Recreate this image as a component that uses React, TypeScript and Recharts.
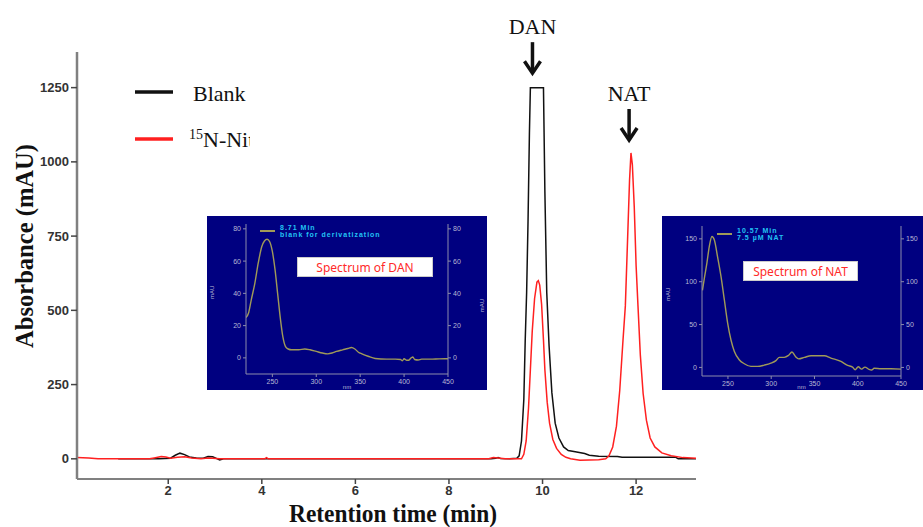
import React from 'react';
import { LineChart, Line, XAxis, YAxis, Legend, ReferenceDot, Label } from 'recharts';

const timeTicks = [2, 4, 6, 8, 10, 12];
const absTicks = [0, 250, 500, 750, 1000, 1250];
const seriesNames = ['Blank', '15N-Nitrite'];

// [retention time (min), absorbance (mAU)]
const blankTrace = [
  [0.93, 0], [1.8, 0], [2.05, 2], [2.15, 12], [2.25, 19], [2.35, 14], [2.45, 6], [2.6, 3],
  [2.75, 2], [2.85, 8], [2.95, 7], [3.05, 0], [3.1, -4], [3.18, 0], [5, 0], [8.9, 0],
  [9.0, 2], [9.05, 4], [9.1, 1], [9.3, 0], [9.45, 2], [9.5, 10], [9.55, 60], [9.6, 200],
  [9.63, 400], [9.66, 560], [9.69, 800], [9.72, 1100], [9.74, 1250], [10.02, 1250], [10.05, 900],
  [10.09, 560], [10.14, 380], [10.2, 222], [10.27, 120], [10.35, 70], [10.45, 40], [10.55, 28],
  [10.7, 24], [10.9, 18], [11.0, 12], [11.2, 9], [11.6, 8], [11.7, 5], [12.85, 5], [12.9, 0], [13.3, 0],
];

const nitriteTrace = [
  [0, 5], [0.3, 3], [0.5, 0], [1.6, 0], [1.7, 3], [1.85, 8], [1.95, 6], [2.05, 2], [2.2, 5],
  [2.35, 7], [2.5, 3], [2.7, 0], [2.85, 3], [2.95, 2], [3.1, 0], [4.06, 0], [4.1, 4], [4.14, 0],
  [8.85, 0], [8.95, 4], [9.1, 2], [9.2, 0], [9.55, 0], [9.6, 15], [9.65, 60], [9.7, 170],
  [9.74, 300], [9.78, 430], [9.83, 540], [9.88, 595], [9.91, 600], [9.94, 585], [9.98, 520],
  [10.02, 400], [10.05, 300], [10.1, 190], [10.15, 120], [10.22, 65], [10.3, 35], [10.4, 15],
  [10.5, 5], [10.6, 0], [10.8, -5], [11.0, -4], [11.2, -3], [11.35, 0], [11.42, 10], [11.5, 40],
  [11.58, 110], [11.65, 230], [11.72, 400], [11.77, 515], [11.82, 750], [11.86, 940], [11.89, 1030],
  [11.92, 990], [11.96, 850], [12.0, 650], [12.04, 515], [12.09, 350], [12.15, 220], [12.22, 130],
  [12.3, 70], [12.4, 40], [12.55, 20], [12.75, 10], [13.0, 4], [13.3, 2],
];

const peakMarks = [
  { name: 'DAN', time: 9.785, abs: 1292 },
  { name: 'NAT', time: 11.85, abs: 1067 },
];

// inset UV spectra: [wavelength (nm), mAU]
const nmTicks = [250, 300, 350, 400, 450];
const danMauTicks = [0, 20, 40, 60, 80];
const natMauTicks = [0, 50, 100, 150];

const danSpectrum = [
  [220, 25], [223, 28], [226, 36], [230, 46], [234, 59], [238, 69], [241, 72.5], [244, 73.5],
  [247, 72], [250, 66], [253, 55], [256, 40], [259, 25], [262, 13], [265, 7], [268, 5.5],
  [272, 5], [280, 5], [287, 5.5], [293, 5], [300, 4], [307, 3], [313, 2.5], [318, 3],
  [323, 4], [330, 5], [336, 5.8], [340, 6.4], [344, 5.5], [348, 3.5], [352, 2.5], [359, 1],
  [367, -0.4], [380, -0.8], [390, -0.8], [396, -1], [398, -1.8], [400, -0.5], [403, -1.5],
  [405, -1.5], [408, 0], [410, 0.5], [412, -1], [416, -1.3], [420, -0.8], [430, -0.8],
  [440, -0.6], [450, -0.5],
];

const natSpectrum = [
  [220.5, 90], [222.7, 104], [225.7, 122], [228.4, 141], [231.5, 152.7], [234.2, 149], [238, 129],
  [242, 106], [245.8, 79], [249.6, 52], [253.5, 32], [257.3, 19], [263, 9], [268.9, 4.3],
  [276.6, 1.2], [284.3, 1.2], [292, 2.7], [299.6, 5], [305.5, 8], [309.4, 11.7], [315, 11.7],
  [320, 14], [324, 18], [328, 12.8], [331.8, 10], [338.3, 11.7], [346, 13.6], [361.4, 13.6],
  [369, 10.9], [380.6, 7], [388.3, 2.3], [394, 0.4], [397, -2.7], [400.6, 0.8], [404.5, -2],
  [408.3, 0.4], [413, -2.3], [416, -3], [419, -1], [427, -1.5], [438.4, -1.5], [450, -2],
];

const toPoints = (rows: number[][]) => rows.map(([x, y]) => ({ x, y }));

const serif = "'Liberation Serif', 'Times New Roman', serif";
const sans = "'Liberation Sans', Arial, sans-serif";

const PeakArrow = (props: any) => {
  const { cx, cy, label } = props;
  return (
    <g>
      <text x={cx} y={cy - 41} textAnchor="middle" fontFamily={serif} fontSize={22} fill="#111">{label}</text>
      <line x1={cx} y1={cy - 33} x2={cx} y2={cy - 4} stroke="#111" strokeWidth={3.5} />
      <polyline points={`${cx - 8},${cy - 14} ${cx},${cy - 2} ${cx + 8},${cy - 14}`} fill="none" stroke="#111" strokeWidth={3.5} />
    </g>
  );
};

const renderLegend = (props: any) => {
  const { payload = [] } = props;
  return (
    <svg width={120} height={75} style={{ overflow: 'hidden', display: 'block' }}>
      {payload.map((entry: any, i: number) => {
        const y = 12 + i * 47;
        const m = String(entry.value).match(/^(\d+)(.*)$/);
        return (
          <g key={entry.value}>
            <line x1={5} y1={y} x2={43} y2={y} stroke={entry.color} strokeWidth={3.5} />
            {m ? (
              <text x={59} y={y + 8} fontFamily={serif} fontSize={22} fill="#111">
                <tspan fontSize={14} dy={-8}>{m[1]}</tspan>
                <tspan dy={8}>{m[2]}</tspan>
              </text>
            ) : (
              <text x={63} y={y + 9} fontFamily={serif} fontSize={22} fill="#111">{entry.value}</text>
            )}
          </g>
        );
      })}
    </svg>
  );
};

const insetTick = { fill: '#b8b8d4', fontSize: 7, fontFamily: sans };
const insetLabel = { fontSize: 6, fill: '#b8b8d4', fontFamily: sans };

function SpectrumInset(props: any) {
  const { box, margin, rightWidth, xHeight, spectrum, mauTicks, mauDomain, legendPos, legendLines, title, titleBox, rightLabel } = props;
  return (
    <div style={{ position: 'absolute', ...box, background: '#000080', overflow: 'hidden' }}>
      <LineChart width={box.width} height={box.height} margin={margin} data={toPoints(spectrum)}>
        <XAxis dataKey="x" type="number" domain={[220, 450]} allowDataOverflow ticks={nmTicks} height={xHeight} stroke="#8c8cab" tickSize={3} tick={insetTick}>
          <Label value="nm" position="insideBottom" offset={1} style={insetLabel} />
        </XAxis>
        <XAxis xAxisId="top" orientation="top" dataKey="x" type="number" domain={[220, 450]} allowDataOverflow height={0} tick={false} tickLine={false} stroke="#8c8cab" />
        <YAxis type="number" domain={mauDomain} allowDataOverflow ticks={mauTicks} width={30} stroke="#8c8cab" tickSize={3} tick={insetTick}>
          <Label value="mAU" angle={-90} position="insideLeft" offset={-4} style={insetLabel} />
        </YAxis>
        <YAxis yAxisId="right" orientation="right" type="number" domain={mauDomain} allowDataOverflow ticks={mauTicks} width={rightWidth} stroke="#8c8cab" tickSize={3} tick={insetTick}>
          {rightLabel && <Label value="mAU" angle={-90} position="insideRight" offset={-4} style={insetLabel} />}
        </YAxis>
        <Line dataKey="y" type="monotone" stroke="#a09a58" strokeWidth={1.4} dot={false} isAnimationActive={false} />
        <Line dataKey="y" yAxisId="right" xAxisId="top" stroke="none" dot={false} activeDot={false} legendType="none" isAnimationActive={false} />
      </LineChart>
      <div style={{ position: 'absolute', left: legendPos.left, top: legendPos.top, display: 'flex', alignItems: 'center' }}>
        <div style={{ width: 15, height: 1.5, background: '#a09a58', marginRight: 5 }} />
        <div style={{ color: '#22c4f4', fontFamily: sans, fontSize: 7, fontWeight: 700, letterSpacing: 1, lineHeight: '7px' }}>
          {legendLines.map((t: string) => <div key={t}>{t}</div>)}
        </div>
      </div>
      <div style={{ position: 'absolute', ...titleBox, background: '#fff', color: '#ff2a2a', fontFamily: "'Noto Sans', Arial, sans-serif", fontSize: 12, lineHeight: `${titleBox.height}px`, textAlign: 'center', border: '1px solid #ccc', boxSizing: 'border-box' }}>
        {title}
      </div>
    </div>
  );
}

export default function App() {
  return (
    <div style={{ position: 'absolute', left: 0, top: 0, width: 923, height: 527, background: '#fff', overflow: 'hidden' }}>
      <LineChart width={923} height={527} margin={{ top: 52, right: 227, bottom: 23, left: 20 }}>
        <XAxis dataKey="x" type="number" domain={[0.05, 13.28]} allowDataOverflow ticks={timeTicks} height={25}
          stroke="#808080" strokeWidth={2} tickSize={5} tickLine={{ stroke: '#444', strokeWidth: 1.5 }}
          tick={{ fill: '#333', fontSize: 13, fontWeight: 700, fontFamily: sans }}>
          <Label content={() => (
            <text x={393} y={522} textAnchor="middle" fontFamily={serif} fontWeight={700} fontSize={25} fill="#111" textLength={208} lengthAdjust="spacingAndGlyphs">Retention time (min)</text>
          )} />
        </XAxis>
        <YAxis type="number" domain={[-68, 1370]} allowDataOverflow ticks={absTicks} width={57}
          stroke="#808080" strokeWidth={2.5} tickSize={6} tickLine={{ stroke: '#444', strokeWidth: 1.5 }}
          tick={{ fill: '#333', fontSize: 13, fontWeight: 700, fontFamily: sans }}>
          <Label content={() => (
            <text x={33} y={246} transform="rotate(-90 33 246)" textAnchor="middle" fontFamily={serif} fontWeight={700} fontSize={26} fill="#111" textLength={204} lengthAdjust="spacingAndGlyphs">Absorbance (mAU)</text>
          )} />
        </YAxis>
        <Legend layout="vertical" align="center" verticalAlign="middle" content={renderLegend}
          itemSorter={(item: any) => seriesNames.indexOf(item.value)}
          wrapperStyle={{ left: 130, top: 80, width: 120, height: 75 }} />
        <Line data={toPoints(blankTrace)} dataKey="y" name={seriesNames[0]} type="linear" stroke="#111" strokeWidth={1.5} dot={false} isAnimationActive={false} />
        <Line data={toPoints(nitriteTrace)} dataKey="y" name={seriesNames[1]} type="linear" stroke="#ff2020" strokeWidth={1.5} dot={false} isAnimationActive={false} />
        {peakMarks.map((p) => (
          <ReferenceDot key={p.name} x={p.time} y={p.abs} ifOverflow="visible" shape={(s: any) => <PeakArrow {...s} label={p.name} />} />
        ))}
      </LineChart>
      <SpectrumInset
        box={{ left: 207, top: 216, width: 280, height: 174 }}
        margin={{ top: 8, right: 9, bottom: 0, left: 9 }}
        rightWidth={30}
        xHeight={16}
        spectrum={danSpectrum}
        mauTicks={danMauTicks}
        mauDomain={[-10, 83]}
        legendPos={{ left: 53, top: 8 }}
        legendLines={['8.71 Min', 'blank for derivatization']}
        title="Spectrum of DAN"
        titleBox={{ left: 90, top: 41, width: 136, height: 20 }}
        rightLabel
      />
      <SpectrumInset
        box={{ left: 662, top: 216, width: 261, height: 174 }}
        margin={{ top: 10, right: 2, bottom: 0, left: 10 }}
        rightWidth={20}
        xHeight={14}
        spectrum={natSpectrum}
        mauTicks={natMauTicks}
        mauDomain={[-10, 165]}
        legendPos={{ left: 55, top: 11 }}
        legendLines={['10.57 Min', '7.5 µM  NAT']}
        title="Spectrum of NAT"
        titleBox={{ left: 81, top: 45, width: 115, height: 20 }}
        rightLabel={false}
      />
    </div>
  );
}
